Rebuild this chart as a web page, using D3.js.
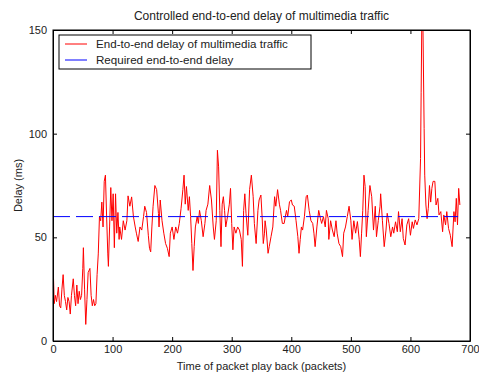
<!DOCTYPE html>
<html>
<head>
<meta charset="utf-8">
<script src="https://cdn.jsdelivr.net/npm/d3@7"></script>
<style>
  body { margin: 0; background: #fff; }
  svg { display: block; font-family: "Liberation Sans", Arial, sans-serif; }
</style>
</head>
<body>
<svg id="chart" width="479" height="374"></svg>
<script>
// packet index / delay (ms)
const packets = [0, 1, 2, 4, 6, 9, 11, 13, 15, 17, 19, 21, 23, 25, 27, 29, 31, 34, 36, 38,
  40, 42, 44, 46, 48, 50, 51, 53, 55, 57, 59, 62, 64, 66, 68, 70, 72, 74, 76, 78,
  80, 82, 84, 86, 88, 90, 92, 93, 95, 97, 99, 101, 103, 105, 107, 109, 111,
  112, 115, 118, 121, 124, 126, 129, 132, 135, 138, 140, 143, 146, 149, 152, 154, 157, 160,
  162, 164, 166, 168, 171, 174, 177, 178, 180, 183, 186, 189, 192, 195, 197, 200, 203, 206,
  209, 212, 215, 218, 220, 222, 224, 227, 229, 231, 233, 235, 237, 239, 242, 244, 246, 249,
  252, 255, 257, 260, 263, 266, 269, 271, 274, 276, 278, 280, 282, 284, 286, 288, 290, 293,
  296, 298, 300, 302, 304, 307, 310, 313, 316, 318, 320, 322, 324, 327, 330, 333, 336, 338,
  341, 344, 346, 349, 351, 353, 355, 356, 358, 361, 363, 366, 369, 372, 374, 377, 380, 382,
  385, 388, 390, 392, 394, 397, 400, 402, 405, 408, 411, 413, 415, 417, 419, 422, 425, 427,
  430, 433, 436, 438, 440, 443, 446, 449, 451, 454, 457, 459, 462, 463, 466, 469, 472, 475,
  477, 480, 483, 486, 488, 491, 494, 497, 500, 502, 505, 508, 511, 514, 516, 518, 520, 522,
  524, 526, 529, 532, 535, 538, 541, 543, 546, 549, 550, 553, 556, 559, 561, 564, 567, 570,
  572, 575, 578, 580, 583, 586, 588, 591, 594, 597, 600, 603, 605, 608, 611, 614, 617, 618,
  619, 621, 623, 624, 626, 628, 630, 632, 634, 636, 638, 641, 643, 646, 648, 651, 654, 656,
  659, 661, 664, 667, 670, 673, 675, 677, 679, 681, 683];
const delay = [37, 29, 18, 22, 19, 26, 17, 16, 25, 32, 22, 19, 15, 21, 19, 13, 22, 30, 22, 17,
  27, 18, 24, 20, 22, 35, 45, 25, 8, 20, 33, 35, 22, 17, 20, 17, 18, 32, 42, 60,
  58, 67, 55, 77, 80, 60, 42, 36, 55, 74, 58, 71, 45, 71, 52, 62, 49,
  55, 49, 58, 53.5, 58, 70, 65, 69.5, 60, 55, 52, 48, 55, 53.5, 60, 65, 62, 51,
  44.7, 43, 55, 65, 75, 73, 61.5, 55, 68, 58, 52, 47, 44.7, 40.7, 52, 55, 49, 55,
  52, 56.7, 64, 73, 80, 66, 74.5, 63, 69.6, 60, 47, 34, 45.5, 55, 60, 56.7, 63, 58,
  50.3, 56.7, 63, 66, 75, 68, 55, 49, 58, 92, 84, 63, 45.5, 66, 69.6, 63, 55, 60,
  66, 73.6, 56.7, 44, 55, 52, 55, 53.5, 49, 36, 63, 71, 61.6, 51, 73, 80, 69.6, 56.7,
  47, 63, 68, 70.4, 60, 47, 52, 58, 53.5, 42.3, 45.5, 50.3, 55, 69.6, 65, 73, 66, 63,
  56.7, 56.7, 60, 63, 60, 67.2, 68, 65.6, 65, 58, 50.3, 42.3, 49, 55, 53.5, 60, 69.6, 70.4,
  63, 58, 56.7, 52, 45.5, 55, 63, 59, 56.7, 60, 55, 63, 59, 49, 58, 53.5, 50.3, 58,
  52, 47, 45.5, 40.7, 52, 55, 60, 65, 58, 49, 58, 52, 57.6, 49, 40.7, 52, 63, 80,
  74.5, 50.3, 63, 75, 69.6, 53.5, 65, 50.3, 58, 65, 71, 58, 45.5, 53.5, 61.6, 56.7, 50.3, 55,
  52, 57.5, 52.7, 62.4, 52.7, 59, 49.5, 46.3, 56, 59, 51, 57.5, 54.3, 58.4, 56, 59, 88, 120,
  150.8, 152, 102.6, 80, 65.6, 59, 64, 75, 67, 73.6, 77, 77, 65.6, 68.8, 60.8, 62.4, 52.7, 60.8,
  56, 62.4, 54.3, 51, 45.5, 62.4, 57.5, 68.8, 56, 73.6, 65.6];
const required = 60;
const requiredRange = [0, 680];
const xTicks = [0, 100, 200, 300, 400, 500, 600, 700];
const yTicks = [0, 50, 100, 150];

const svg = d3.select("#chart");
const margin = {top: 30, right: 9, bottom: 33, left: 53};
const width = +svg.attr("width") - margin.left - margin.right,
  height = +svg.attr("height") - margin.top - margin.bottom;

const x = d3.scaleLinear().domain([0, 700]).range([0, width]);
const y = d3.scaleLinear().domain([0, 150]).range([height, 0]);

svg.append("defs").append("clipPath").attr("id", "plotclip")
  .append("rect").attr("width", width).attr("height", height);

const g = svg.append("g").attr("transform", "translate(" + margin.left + "," + margin.top + ")");

g.append("rect").attr("width", width).attr("height", height).attr("fill", "#fff");

// data
const line = d3.line().x(d => x(d[0])).y(d => y(d[1]));
g.append("path")
  .datum(packets.map((p, i) => [p, delay[i]]))
  .attr("clip-path", "url(#plotclip)")
  .attr("fill", "none")
  .attr("stroke", "#ff0000")
  .attr("stroke-width", 1)
  .attr("d", line);

g.append("path")
  .datum(requiredRange.map(p => [p, required]))
  .attr("fill", "none")
  .attr("stroke", "#0000ff")
  .attr("stroke-width", 1)
  .attr("stroke-dasharray", "17,6")
  .attr("d", line);

// axes, matlab style: ticks inside, full box
const tickLen = 4;
g.append("g")
  .attr("class", "axis axis--x")
  .attr("transform", "translate(0," + height + ")")
  .call(d3.axisBottom(x).tickValues(xTicks).tickSizeInner(-tickLen).tickSizeOuter(0).tickPadding(4));
g.append("g")
  .attr("class", "axis axis--y")
  .call(d3.axisLeft(y).tickValues(yTicks).tickSizeInner(-tickLen).tickSizeOuter(0).tickPadding(6));
g.append("g")
  .call(d3.axisTop(x).tickValues(xTicks).tickSizeInner(-tickLen).tickSizeOuter(0).tickFormat(""));
g.append("g")
  .attr("transform", "translate(" + width + ",0)")
  .call(d3.axisRight(y).tickValues(yTicks).tickSizeInner(-tickLen).tickSizeOuter(0).tickFormat(""));

g.selectAll(".domain").attr("stroke", "#000");
g.selectAll(".tick line").attr("stroke", "#000");
g.selectAll(".tick text").attr("fill", "#222").style("font-size", "11px");

g.append("rect").attr("width", width).attr("height", height)
  .attr("fill", "none").attr("stroke", "#000");

// labels
svg.append("text")
  .attr("x", margin.left + width / 2).attr("y", 20)
  .attr("text-anchor", "middle").attr("fill", "#222").style("font-size", "12px")
  .text("Controlled end-to-end delay of multimedia traffic");
svg.append("text")
  .attr("x", margin.left + width / 2).attr("y", 370)
  .attr("text-anchor", "middle").attr("fill", "#222").style("font-size", "11px")
  .text("Time of packet play back (packets)");
svg.append("text")
  .attr("transform", "translate(22," + (margin.top + height / 2) + ") rotate(-90)")
  .attr("text-anchor", "middle").attr("fill", "#222").style("font-size", "11px")
  .text("Delay (ms)");

// legend
const legend = g.append("g").attr("transform", "translate(6,5)");
legend.append("rect").attr("width", 252).attr("height", 34)
  .attr("fill", "#fff").attr("stroke", "#000");
const items = [
  {label: "End-to-end delay of multimedia traffic", color: "#ff0000"},
  {label: "Required end-to-end delay", color: "#0000ff"}
];
items.forEach((it, i) => {
  const yy = 9 + i * 16;
  legend.append("line").attr("x1", 6).attr("x2", 28).attr("y1", yy).attr("y2", yy)
    .attr("stroke", it.color);
  legend.append("text").attr("x", 37).attr("y", yy + 4)
    .attr("fill", "#222").style("font-size", "11.6px").text(it.label);
});
</script>
</body>
</html>
